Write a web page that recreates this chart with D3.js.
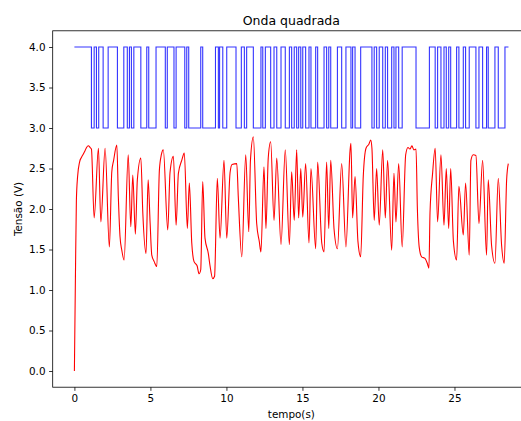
<!DOCTYPE html>
<html>
<head>
<meta charset="utf-8">
<script src="https://cdn.jsdelivr.net/npm/d3@7"></script>
<style>
  body { margin: 0; background: #fff; }
  text { font-family: "DejaVu Sans", sans-serif; fill: #000; }
</style>
</head>
<body>
<div id="chart"></div>
<script>
// square wave: switching times (s) and level after each switch (V)
var squareT = [0, 1.12, 1.30, 1.45, 1.60, 1.89, 2.22, 2.83, 3.25, 3.48, 3.62, 3.75, 3.91, 4.37, 4.76, 4.89,
  5.37, 5.98, 6.11, 6.55, 6.69, 7.26, 7.39, 7.52, 8.31, 8.44, 9.28, 9.47, 9.55, 9.76, 10.02, 10.63,
  10.98, 11.18, 11.33, 11.77, 12.27, 12.39, 12.56, 12.91, 13.13, 13.31, 13.59, 13.87, 14.14, 14.29,
  14.46, 14.62, 14.75, 14.89, 15.02, 15.21, 15.43, 15.56, 15.87, 16.00, 16.42, 16.59, 16.73, 16.86,
  17.30, 17.58, 17.86, 18.19, 18.30, 18.46, 18.83, 19.57, 19.72, 19.88, 20.05, 20.28, 20.45, 20.60,
  20.87, 21.02, 21.15, 21.33, 21.56, 22.47, 23.35, 23.73, 23.89, 24.11, 24.31, 24.46, 24.62, 24.75,
  25.14, 25.29, 25.58, 25.73, 25.97, 26.41, 26.61, 26.85, 27.11, 27.22, 27.66, 27.88, 28.32, 28.55];
var squareV = [4, 3, 4, 3, 4, 3, 4, 3, 4, 3, 4, 3, 4, 3, 4, 3,
  4, 3, 4, 3, 4, 3, 4, 3, 4, 3, 4, 3, 4, 3, 4, 3,
  4, 3, 4, 3, 4, 3, 4, 3, 4, 3, 4, 3, 4, 3,
  4, 3, 4, 3, 4, 3, 4, 3, 4, 3, 4, 3, 4, 3,
  4, 3, 4, 3, 4, 3, 4, 3, 4, 3, 4, 3, 4, 3,
  4, 3, 4, 3, 4, 3, 4, 3, 4, 3, 4, 3, 4, 3,
  4, 3, 4, 3, 4, 3, 4, 3, 4, 3, 4, 3, 4, 4];

// measured voltage: times (s) and values (V)
var tensaoT = [0, 0.07, 0.13, 0.21, 0.34, 0.47, 0.59, 0.70, 0.80, 0.92, 1.03, 1.12, 1.30, 1.58, 1.74, 2.02,
  2.30, 2.46, 2.58, 2.79, 2.89, 3.00, 3.12, 3.27, 3.54, 3.71, 3.84, 4.01, 4.14, 4.37, 4.50, 4.71,
  4.85, 4.98, 5.09, 5.25, 5.42, 5.59, 5.72, 5.85, 6.14, 6.29, 6.51, 6.69, 6.84, 7.06, 7.23, 7.43,
  7.56, 7.72, 7.87, 8.07, 8.20, 8.31, 8.44, 8.59, 8.81, 8.92, 9.10, 9.22, 9.40, 9.58, 9.84, 10.02,
  10.24, 10.37, 10.68, 10.78, 11.01, 11.27, 11.47, 11.58, 11.77, 11.99, 12.16, 12.27, 12.47, 12.60,
  12.75, 12.91, 13.13, 13.31, 13.59, 13.87, 14.14, 14.29, 14.46, 14.62, 14.75, 14.89, 15.02, 15.21,
  15.43, 15.56, 15.87, 16.00, 16.27, 16.42, 16.59, 16.73, 16.86, 17.08, 17.30, 17.58, 17.86, 18.13,
  18.19, 18.30, 18.46, 18.65, 18.83, 19.00, 19.18, 19.37, 19.49, 19.57, 19.72, 19.88, 20.05, 20.28,
  20.45, 20.60, 20.87, 21.02, 21.15, 21.33, 21.56, 21.79, 21.94, 22.07, 22.20, 22.33, 22.47, 22.56,
  22.68, 22.84, 23.06, 23.21, 23.32, 23.39, 23.56, 23.73, 23.89, 24.11, 24.31, 24.46, 24.62, 24.75,
  24.93, 25.14, 25.29, 25.58, 25.73, 25.97, 26.08, 26.23, 26.41, 26.61, 26.85, 27.11, 27.22, 27.44,
  27.66, 27.88, 28.10, 28.27, 28.43, 28.54];
var tensaoV = [0.0, 1.2, 2.1, 2.4, 2.58, 2.64, 2.68, 2.72, 2.76, 2.78, 2.76, 2.74, 1.89, 2.75, 1.84, 2.75,
  1.53, 2.46, 2.6, 2.79, 2.15, 1.66, 1.49, 1.37, 2.67, 1.78, 2.42, 1.69, 2.36, 2.63, 1.95, 1.45,
  2.36, 1.83, 1.43, 1.35, 1.29, 2.48, 2.67, 2.73, 1.74, 2.45, 2.65, 1.80, 2.44, 2.6, 2.69, 1.76,
  2.32, 1.58, 1.35, 1.3, 1.2, 1.25, 2.34, 1.64, 1.45, 1.3, 1.14, 1.17, 2.38, 1.64, 2.6, 1.64,
  2.45, 2.55, 2.56, 2.15, 1.41, 2.67, 1.72, 2.6, 2.89, 1.82, 1.6, 1.47, 2.52, 1.76,
  2.63, 2.83, 1.86, 2.63, 1.56, 2.73, 1.56, 2.46, 1.86, 2.73, 1.89, 2.5, 1.9, 2.56,
  1.58, 2.5, 1.51, 2.58, 1.58, 1.47, 2.58, 1.76, 2.6, 1.75, 1.51, 2.56, 1.53, 2.72,
  2.81, 1.89, 2.4, 1.6, 1.41, 2.4, 2.75, 2.8, 2.85, 2.75, 1.86, 2.5, 1.8, 2.73,
  1.89, 2.6, 1.49, 2.44, 1.84, 2.56, 1.53, 2.67, 2.76, 2.74, 2.78, 2.73, 2.74, 2.0,
  1.53, 1.41, 1.39, 1.33, 1.27, 1.95, 2.44, 2.75, 1.84, 2.67, 1.8, 2.5, 1.76, 2.5,
  1.6, 1.37, 2.28, 1.68, 2.32, 1.43, 2.6, 2.67, 2.66, 1.82, 2.6, 1.43, 2.36, 1.55,
  1.33, 2.38, 1.55, 1.33, 2.36, 2.56];

var xTicks = [0, 5, 10, 15, 20, 25];
var yTicks = [0.0, 0.5, 1.0, 1.5, 2.0, 2.5, 3.0, 3.5, 4.0];

var svgWidth = 521;
var svgHeight = 421;

// axes box (right edge falls outside the picture, like the original)
var margin = { top: 30.8, left: 52.7, right: -9, bottom: 33.8 };
var width = svgWidth - margin.left - margin.right;
var height = svgHeight - margin.top - margin.bottom;

var svg = d3.select("#chart")
  .append("svg")
  .attr("width", svgWidth)
  .attr("height", svgHeight);

var chartGroup = svg.append("g")
  .attr("transform", `translate(${margin.left}, ${margin.top})`);

// matplotlib-like 5% margins
var tMax = d3.max(tensaoT);
var xScale = d3.scaleLinear()
  .domain([-0.05 * tMax, tMax * 1.05])
  .range([0, width]);

var yScale = d3.scaleLinear()
  .domain([-0.2, 4.2])
  .range([height, 0]);

svg.append("defs").append("clipPath")
  .attr("id", "clip")
  .append("rect")
  .attr("width", width)
  .attr("height", height);

var plotArea = chartGroup.append("g").attr("clip-path", "url(#clip)");

// square wave
var squareData = squareT.map((t, i) => ({ t: t, v: squareV[i] }));
var stepLine = d3.line()
  .x(d => xScale(d.t))
  .y(d => yScale(d.v))
  .curve(d3.curveStepAfter);

plotArea.append("path")
  .datum(squareData)
  .attr("d", stepLine)
  .attr("fill", "none")
  .attr("stroke", "#0000ff")
  .attr("stroke-width", 1.1)
  .attr("stroke-opacity", 0.8);

// measured voltage
var tensaoData = tensaoT.map((t, i) => ({ t: t, v: tensaoV[i] }));
var line = d3.line()
  .x(d => xScale(d.t))
  .y(d => yScale(d.v))
  .curve(d3.curveMonotoneX);

plotArea.append("path")
  .datum(tensaoData)
  .attr("d", line)
  .attr("fill", "none")
  .attr("stroke", "#ff0000")
  .attr("stroke-width", 1.1)
  .attr("stroke-linejoin", "round");

// axes
var bottomAxis = d3.axisBottom(xScale)
  .tickValues(xTicks)
  .tickFormat(d3.format("d"))
  .tickSize(3.6)
  .tickPadding(3.6);

var leftAxis = d3.axisLeft(yScale)
  .tickValues(yTicks)
  .tickFormat(d3.format(".1f"))
  .tickSize(3.6)
  .tickPadding(3.6);

var xAxis = chartGroup.append("g")
  .attr("transform", `translate(0, ${height})`)
  .call(bottomAxis);

var yAxis = chartGroup.append("g")
  .call(leftAxis);

[xAxis, yAxis].forEach(function(ax) {
  ax.select(".domain").remove();
  ax.selectAll("line").attr("stroke", "#000").attr("stroke-width", 0.8);
  ax.selectAll("text")
    .style("font-family", "DejaVu Sans, sans-serif")
    .style("font-size", "10.4px")
    .attr("fill", "#000");
});

// spines
chartGroup.append("rect")
  .attr("width", width)
  .attr("height", height)
  .attr("fill", "none")
  .attr("stroke", "#000")
  .attr("stroke-width", 0.8);

// labels
svg.append("text")
  .attr("x", margin.left + width / 2)
  .attr("y", 24.5)
  .attr("text-anchor", "middle")
  .style("font-size", "12.5px")
  .text("Onda quadrada");

svg.append("text")
  .attr("x", margin.left + width / 2)
  .attr("y", 418)
  .attr("text-anchor", "middle")
  .style("font-size", "10.4px")
  .text("tempo(s)");

svg.append("text")
  .attr("transform", `translate(21.5, ${margin.top + height / 2}) rotate(-90)`)
  .attr("text-anchor", "middle")
  .style("font-size", "10.4px")
  .text("Tensão (V)");
</script>
</body>
</html>
